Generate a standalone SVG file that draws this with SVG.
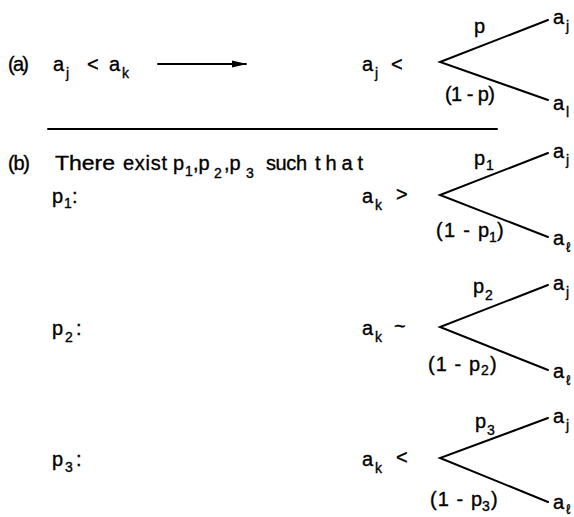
<svg xmlns="http://www.w3.org/2000/svg" width="574" height="517" viewBox="0 0 574 517">
<style>
text { font-family: "Liberation Sans", Arial, sans-serif; font-size: 20px; fill: #000; stroke: #000; stroke-width: 0.35; }
.s { font-size: 14px; }
.e { stroke: #000; stroke-width: 2; fill: none; stroke-linecap: round; }
</style>
<defs>
<marker id="ah" viewBox="0 0 15 8" refX="14" refY="4" markerWidth="15" markerHeight="8" markerUnits="userSpaceOnUse" orient="auto">
<path d="M0,0.5 L15,4 L0,7.5 Z" fill="#000"/>
</marker>
</defs>
<rect width="574" height="517" fill="#fff"/>

<g id="connectors">
<line class="e" x1="158" y1="64" x2="246" y2="64" marker-end="url(#ah)"/>
<line class="e" x1="48" y1="129" x2="497" y2="129"/>
<polyline class="e" points="548,20 440,62 548,100"/>
<polyline class="e" points="548,153 440,195 548,237"/>
<polyline class="e" points="548,285 440,327 548,370"/>
<polyline class="e" points="548,418 440,458 548,502"/>
</g>

<g id="a-premise">
<text x="8" y="71" textLength="21">(a)</text>
<text x="53" y="71">a<tspan class="s" x="66" y="78">j</tspan></text>
<text x="87" y="71">&lt;</text>
<text x="109" y="71">a<tspan class="s" x="122" y="78">k</tspan></text>
</g>

<g id="a-lottery">
<text x="362" y="71">a<tspan class="s" x="375" y="78">j</tspan></text>
<text x="391" y="71">&lt;</text>
<text x="474" y="33">p</text>
<text x="445" y="101" textLength="50">(1 - p)</text>
<text x="553" y="24">a<tspan class="s" x="566" y="31">j</tspan></text>
<text x="553" y="110">a<tspan class="s" x="566" y="117">l</tspan></text>
</g>

<g id="b-heading">
<text x="8" y="170" textLength="22">(b)</text>
<text x="55" y="170" textLength="60" lengthAdjust="spacingAndGlyphs">There</text>
<text x="123" y="170" textLength="44">exist</text>
<text x="173" y="170">p<tspan class="s" x="185" y="176">1</tspan><tspan x="193" y="170">,</tspan>p<tspan class="s" x="214" y="178">2</tspan><tspan x="224" y="170">,</tspan>p<tspan class="s" x="246" y="178">3</tspan></text>
<text x="266" y="170" textLength="41">such</text>
<text x="315" y="170" textLength="48">that</text>
</g>

<g id="b-p1">
<text x="52" y="203">p<tspan class="s" x="64" y="208">1</tspan><tspan x="72" y="203">:</tspan></text>
<text x="362" y="203">a<tspan class="s" x="375" y="210">k</tspan></text>
<text x="396" y="201">&gt;</text>
<text x="474" y="165">p<tspan class="s" x="486" y="170">1</tspan></text>
<text x="436" y="237" textLength="53">(1 - p</text>
<text x="489" y="242" class="s">1</text>
<text x="497" y="237">)</text>
<text x="553" y="158">a<tspan class="s" x="566" y="165">j</tspan></text>
<text x="553" y="245">a<tspan class="s" x="566" y="252">ℓ</tspan></text>
</g>

<g id="b-p2">
<text x="52" y="335">p<tspan class="s" x="65" y="342">2</tspan><tspan x="76" y="335">:</tspan></text>
<text x="362" y="335">a<tspan class="s" x="375" y="342">k</tspan></text>
<text x="394" y="333">~</text>
<text x="473" y="293">p<tspan class="s" x="485" y="300">2</tspan></text>
<text x="428" y="371" textLength="52">(1 - p</text>
<text x="481" y="375" class="s">2</text>
<text x="490" y="371">)</text>
<text x="553" y="290">a<tspan class="s" x="566" y="297">j</tspan></text>
<text x="553" y="378">a<tspan class="s" x="566" y="385">ℓ</tspan></text>
</g>

<g id="b-p3">
<text x="52" y="466">p<tspan class="s" x="65" y="472">3</tspan><tspan x="76" y="466">:</tspan></text>
<text x="362" y="466">a<tspan class="s" x="375" y="473">k</tspan></text>
<text x="396" y="464">&lt;</text>
<text x="475" y="428">p<tspan class="s" x="487" y="435">3</tspan></text>
<text x="430" y="506" textLength="52">(1 - p</text>
<text x="482" y="511" class="s">3</text>
<text x="491" y="506">)</text>
<text x="553" y="423">a<tspan class="s" x="566" y="430">j</tspan></text>
<text x="553" y="509">a<tspan class="s" x="566" y="514">ℓ</tspan></text>
</g>
</svg>
